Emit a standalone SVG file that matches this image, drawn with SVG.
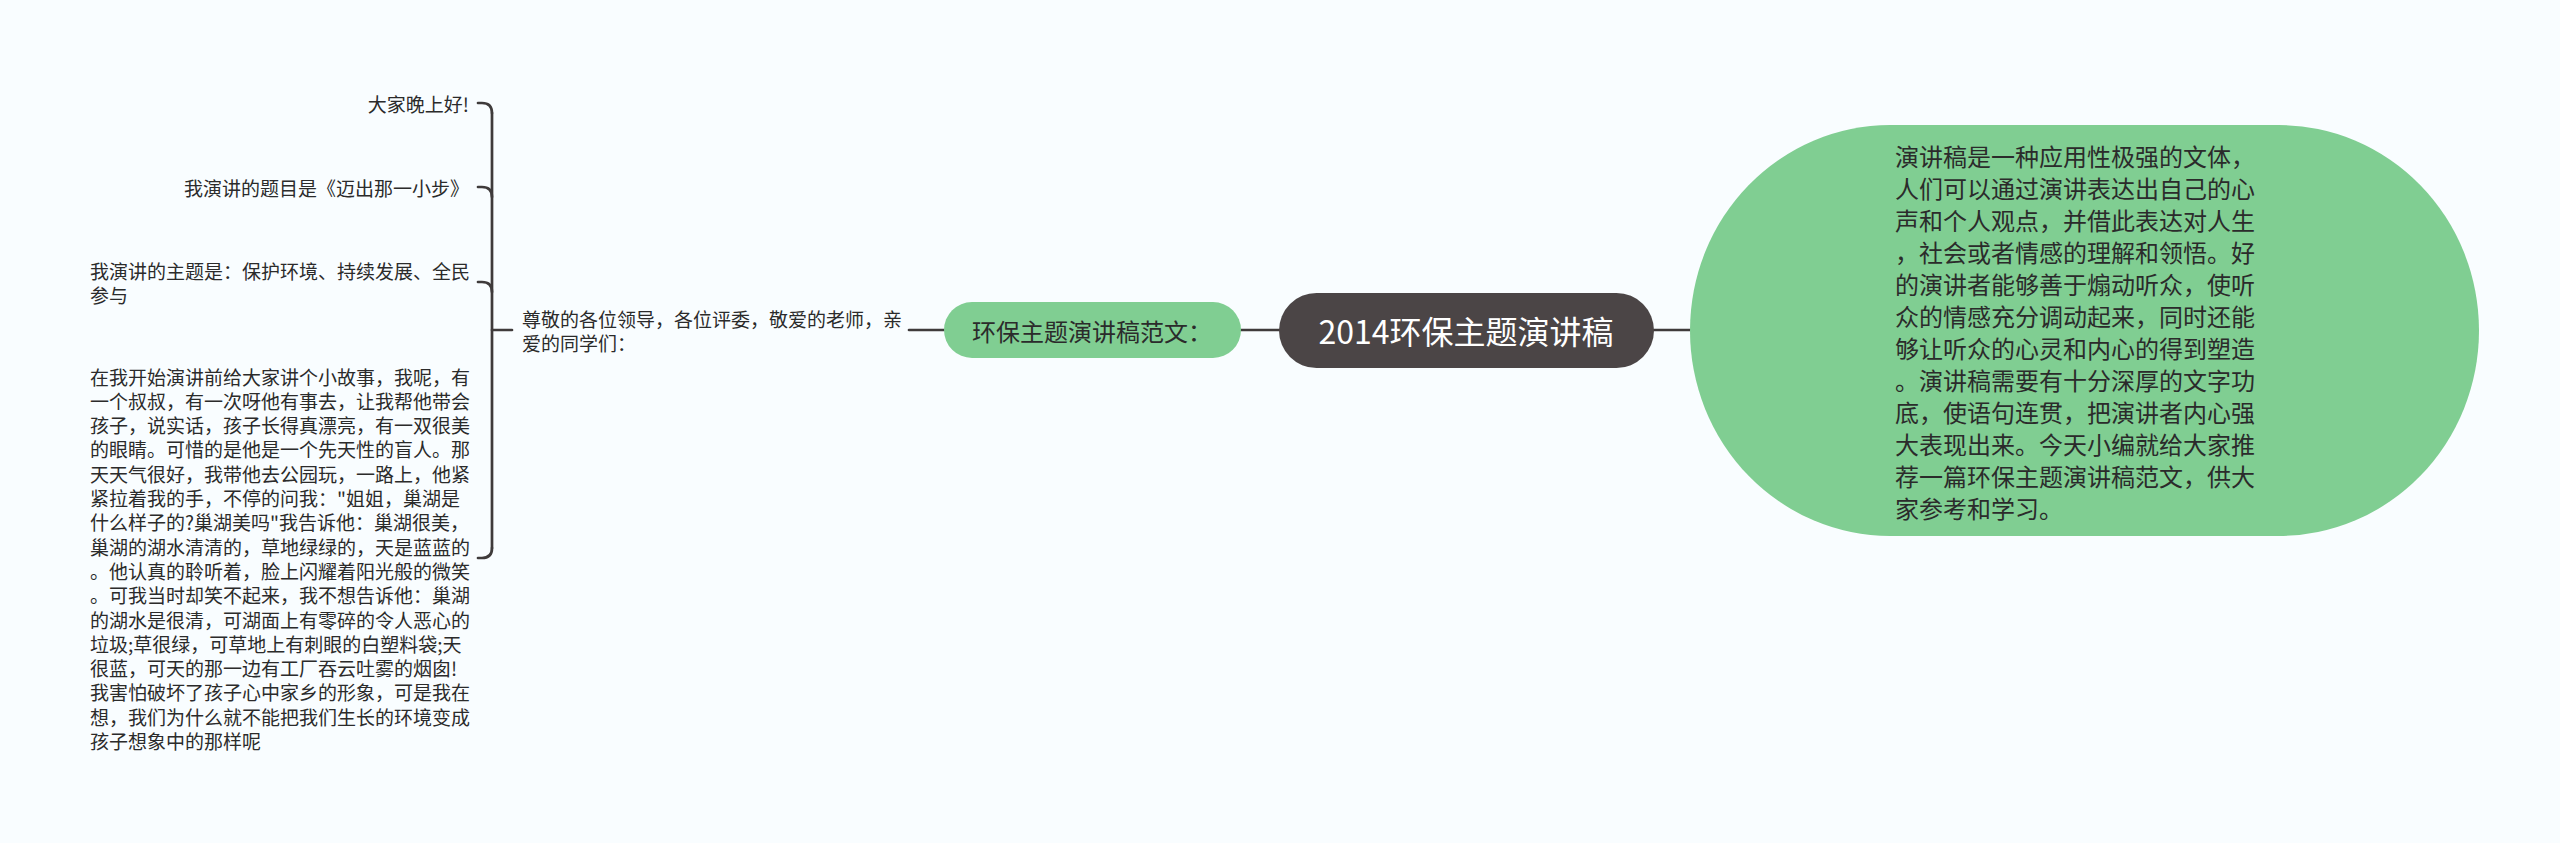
<svg xmlns="http://www.w3.org/2000/svg" width="2560" height="843" viewBox="0 0 2560 843">
<style>
text{font-family:"Noto Sans CJK SC","Noto Sans",sans-serif;dominant-baseline:central;}
.t{font-size:19px;fill:#2b2b2b;}
.r{font-size:24px;fill:#2b2b2b;}
.g{fill:#80ce92;}
.ln{fill:none;stroke:#3f3b3b;stroke-width:2.7;stroke-linecap:round;}
</style>
<rect width="2560" height="843" fill="#f9fdff"/>
<g id="connectors">
<path class="ln" d="M492,113 V548"/>
<path class="ln" d="M492,113 Q492,103 482,103 H478"/>
<path class="ln" d="M492,197 Q492,187 482,187 H478"/>
<path class="ln" d="M492,292 Q492,282 482,282 H478"/>
<path class="ln" d="M492,548 Q492,558 482,558 H478"/>
<path class="ln" d="M492,330 H512"/>
<path class="ln" d="M909,330 H944"/>
<path class="ln" d="M1241,330 H1279"/>
<path class="ln" d="M1654,330 H1690"/>
</g>
<g id="root">
<rect x="1279" y="293" width="375" height="75" rx="37.5" fill="#4b4546"/>
<text x="1466" y="330" font-size="32" fill="#ffffff" text-anchor="middle">2014环保主题演讲稿</text>
</g>
<g id="intro">
<rect class="g" x="1690" y="125" width="789" height="411" rx="200" ry="205.5"/>
<text class="r" x="1895" y="155">演讲稿是一种应用性极强的文体，</text>
<text class="r" x="1895" y="187">人们可以通过演讲表达出自己的心</text>
<text class="r" x="1895" y="219">声和个人观点，并借此表达对人生</text>
<text class="r" x="1895" y="251">，社会或者情感的理解和领悟。好</text>
<text class="r" x="1895" y="283">的演讲者能够善于煽动听众，使听</text>
<text class="r" x="1895" y="315">众的情感充分调动起来，同时还能</text>
<text class="r" x="1895" y="347">够让听众的心灵和内心的得到塑造</text>
<text class="r" x="1895" y="379">。演讲稿需要有十分深厚的文字功</text>
<text class="r" x="1895" y="411">底，使语句连贯，把演讲者内心强</text>
<text class="r" x="1895" y="443">大表现出来。今天小编就给大家推</text>
<text class="r" x="1895" y="475">荐一篇环保主题演讲稿范文，供大</text>
<text class="r" x="1895" y="507">家参考和学习。</text>
</g>
<g id="sample">
<rect class="g" x="944" y="302" width="297" height="56" rx="28"/>
<text x="972" y="330" font-size="24" fill="#2b2b2b">环保主题演讲稿范文：</text>
</g>
<g id="greeting">
<text class="t" x="522" y="318">尊敬的各位领导，各位评委，敬爱的老师，亲</text>
<text class="t" x="522" y="342.3">爱的同学们：</text>
</g>
<g id="item1">
<text class="t" x="469" y="103" text-anchor="end">大家晚上好!</text>
</g>
<g id="item2">
<text class="t" x="469" y="187" text-anchor="end">我演讲的题目是《迈出那一小步》</text>
</g>
<g id="item3">
<text class="t" x="90" y="270">我演讲的主题是：保护环境、持续发展、全民</text>
<text class="t" x="90" y="294.3">参与</text>
</g>
<g id="item4">
<text class="t" x="90" y="376">在我开始演讲前给大家讲个小故事，我呢，有</text>
<text class="t" x="90" y="400.3">一个叔叔，有一次呀他有事去，让我帮他带会</text>
<text class="t" x="90" y="424.6">孩子，说实话，孩子长得真漂亮，有一双很美</text>
<text class="t" x="90" y="448.9">的眼睛。可惜的是他是一个先天性的盲人。那</text>
<text class="t" x="90" y="473.2">天天气很好，我带他去公园玩，一路上，他紧</text>
<text class="t" x="90" y="497.5">紧拉着我的手，不停的问我："姐姐，巢湖是</text>
<text class="t" x="90" y="521.8">什么样子的?巢湖美吗"我告诉他：巢湖很美，</text>
<text class="t" x="90" y="546.1">巢湖的湖水清清的，草地绿绿的，天是蓝蓝的</text>
<text class="t" x="90" y="570.4">。他认真的聆听着，脸上闪耀着阳光般的微笑</text>
<text class="t" x="90" y="594.7">。可我当时却笑不起来，我不想告诉他：巢湖</text>
<text class="t" x="90" y="619">的湖水是很清，可湖面上有零碎的令人恶心的</text>
<text class="t" x="90" y="643.3">垃圾;草很绿，可草地上有刺眼的白塑料袋;天</text>
<text class="t" x="90" y="667.6">很蓝，可天的那一边有工厂吞云吐雾的烟囱!</text>
<text class="t" x="90" y="691.9">我害怕破坏了孩子心中家乡的形象，可是我在</text>
<text class="t" x="90" y="716.2">想，我们为什么就不能把我们生长的环境变成</text>
<text class="t" x="90" y="740.5">孩子想象中的那样呢</text>
</g>
</svg>
